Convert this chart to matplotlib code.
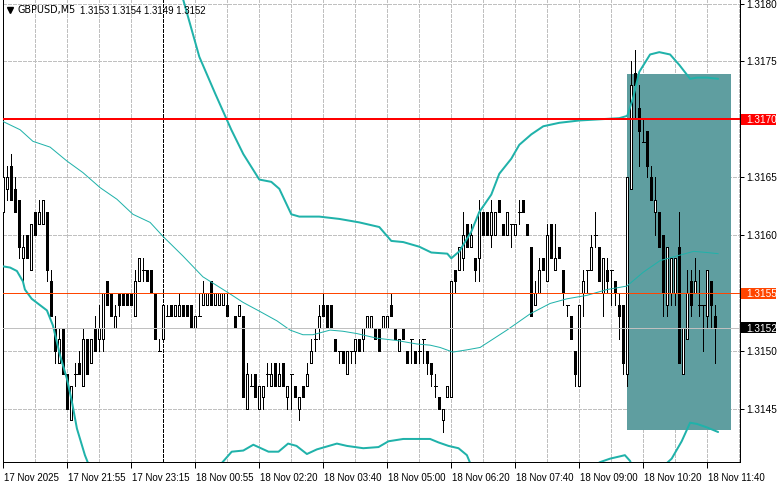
import matplotlib
matplotlib.use("Agg")
import matplotlib.pyplot as plt
from matplotlib.patches import Rectangle
from matplotlib.transforms import blended_transform_factory
import numpy as np

# ---------------- data ----------------
opens = [1.3162,1.3164,1.3166,1.3164,1.3163,1.3158,1.3160,1.3157,1.3162,1.3161,
         1.3161,1.3162,1.3156,1.3152,1.3149,1.3152,1.3148,1.3144,1.3148,1.3149,
         1.3147,1.3151,1.3149,1.3152,1.3151,1.3151,1.3156,1.3155,1.3152,1.3155,
         1.3155,1.3155,1.3155,1.3153,1.3156,1.3157,1.3157,1.3157,1.3155,1.3150,
         1.3151,1.3153,1.3154,1.3153,1.3153,1.3154,1.3154,1.3154,1.3152,1.3153,
         1.3154,1.3154,1.3156,1.3154,1.3154,1.3154,1.3154,1.3152,1.3153,1.3153,
         1.3153,1.3145,1.3147,1.3148,1.3145,1.3146,1.3148,1.3147,1.3149,1.3147,
         1.3149,1.3146,1.3148,1.3147,1.3145,1.3147,1.3147,1.3149,1.3151,1.3152,
         1.3154,1.3154,1.3154,1.3151,1.3150,1.3150,1.3148,1.3150,1.3150,1.3151,
         1.3151,1.3152,1.3152,1.3152,1.3152,1.3152,1.3152,1.3154,1.3152,1.3150,
         1.3152,1.3150,1.3151,1.3150,1.3150,1.3151,1.3150,1.3149,1.3147,1.3146,
         1.3144,1.3146,1.3146,1.3157,1.3157,1.3158,1.3161,1.3159,1.3158,1.3158,
         1.3162,1.3162,1.3160,1.3160,1.3163,1.3161,1.3160,1.3161,1.3160,1.3162,
         1.3163,1.3161,1.3159,1.3154,1.3155,1.3158,1.3156,1.3161,1.3157,1.3159,
         1.3157,1.3154,1.3153,1.3150,1.3147,1.3155,1.3157,1.3157,1.3160,1.3159,
         1.3155,1.3157,1.3157,1.3156,1.3154,1.3154,1.3148,1.3164,1.3174,1.3171,
         1.3168,1.3169,1.3165,1.3162,1.3162,1.3160,1.3154,1.3155,1.3155,1.3159,
         1.3148,1.3151,1.3156,1.3155,1.3154,1.3154,1.3153,1.3156,1.3153]
highs = [1.3166,1.3166,1.3167,1.3165,1.3163,1.3160,1.3160,1.3161,1.3162,1.3163,
         1.3163,1.3162,1.3157,1.3153,1.3152,1.3152,1.3148,1.3147,1.3149,1.3150,
         1.3152,1.3151,1.3151,1.3153,1.3154,1.3155,1.3156,1.3155,1.3154,1.3155,
         1.3155,1.3155,1.3155,1.3157,1.3158,1.3158,1.3157,1.3157,1.3155,1.3151,
         1.3154,1.3154,1.3154,1.3154,1.3155,1.3154,1.3154,1.3154,1.3153,1.3155,
         1.3156,1.3155,1.3156,1.3155,1.3155,1.3155,1.3155,1.3152,1.3153,1.3154,
         1.3153,1.3149,1.3148,1.3148,1.3147,1.3147,1.3149,1.3149,1.3149,1.3149,
         1.3149,1.3147,1.3148,1.3147,1.3146,1.3147,1.3149,1.3151,1.3152,1.3154,
         1.3155,1.3154,1.3154,1.3151,1.3150,1.3150,1.3150,1.3150,1.3151,1.3151,
         1.3152,1.3153,1.3153,1.3152,1.3152,1.3153,1.3153,1.3155,1.3152,1.3151,
         1.3152,1.3150,1.3151,1.3150,1.3151,1.3151,1.3150,1.3149,1.3148,1.3146,
         1.3145,1.3147,1.3156,1.3157,1.3159,1.3162,1.3161,1.3161,1.3158,1.3163,
         1.3162,1.3162,1.3163,1.3162,1.3163,1.3161,1.3162,1.3161,1.3161,1.3163,
         1.3163,1.3161,1.3159,1.3156,1.3158,1.3158,1.3161,1.3161,1.3161,1.3159,
         1.3157,1.3154,1.3153,1.3150,1.3154,1.3157,1.3157,1.3160,1.3162,1.3159,
         1.3158,1.3158,1.3157,1.3156,1.3155,1.3154,1.3165,1.3175,1.3176,1.3173,
         1.3170,1.3169,1.3166,1.3165,1.3162,1.3160,1.3159,1.3158,1.3158,1.3162,
         1.3152,1.3157,1.3157,1.3158,1.3157,1.3154,1.3157,1.3156,1.3154]
lows = [1.3161,1.3163,1.3163,1.3162,1.3158,1.3156,1.3158,1.3157,1.3160,1.3161,
        1.3161,1.3156,1.3153,1.3149,1.3149,1.3148,1.3145,1.3144,1.3147,1.3148,
        1.3147,1.3148,1.3149,1.3150,1.3150,1.3150,1.3154,1.3153,1.3152,1.3153,
        1.3154,1.3154,1.3154,1.3153,1.3156,1.3156,1.3156,1.3155,1.3151,1.3150,
        1.3151,1.3153,1.3153,1.3153,1.3153,1.3153,1.3153,1.3152,1.3152,1.3153,
        1.3154,1.3154,1.3154,1.3154,1.3154,1.3154,1.3153,1.3152,1.3152,1.3153,
        1.3146,1.3145,1.3147,1.3146,1.3145,1.3145,1.3147,1.3147,1.3147,1.3147,
        1.3147,1.3145,1.3145,1.3146,1.3144,1.3146,1.3147,1.3149,1.3150,1.3151,
        1.3153,1.3152,1.3152,1.3150,1.3149,1.3149,1.3148,1.3149,1.3149,1.3150,
        1.3150,1.3152,1.3152,1.3151,1.3150,1.3152,1.3152,1.3153,1.3151,1.3150,
        1.3151,1.3149,1.3149,1.3149,1.3149,1.3149,1.3148,1.3147,1.3146,1.3145,
        1.3143,1.3146,1.3146,1.3155,1.3157,1.3157,1.3159,1.3159,1.3156,1.3156,
        1.3160,1.3160,1.3159,1.3160,1.3162,1.3160,1.3160,1.3159,1.3160,1.3161,
        1.3162,1.3160,1.3153,1.3154,1.3155,1.3157,1.3156,1.3158,1.3157,1.3158,
        1.3154,1.3153,1.3151,1.3147,1.3147,1.3153,1.3155,1.3157,1.3159,1.3156,
        1.3153,1.3155,1.3154,1.3154,1.3151,1.3148,1.3147,1.3164,1.3170,1.3166,
        1.3168,1.3165,1.3163,1.3160,1.3159,1.3153,1.3153,1.3154,1.3154,1.3149,
        1.3148,1.3151,1.3153,1.3155,1.3153,1.3150,1.3152,1.3152,1.3149]
closes = [1.3165,1.3165,1.3163,1.3162,1.3159,1.3159,1.3158,1.3161,1.3160,1.3162,
          1.3163,1.3157,1.3153,1.3150,1.3151,1.3148,1.3145,1.3147,1.3148,1.3148,
          1.3151,1.3148,1.3151,1.3150,1.3152,1.3155,1.3154,1.3153,1.3153,1.3154,
          1.3154,1.3154,1.3154,1.3156,1.3158,1.3157,1.3156,1.3155,1.3151,1.3150,
          1.3154,1.3153,1.3153,1.3154,1.3154,1.3153,1.3153,1.3152,1.3153,1.3153,
          1.3155,1.3155,1.3154,1.3155,1.3155,1.3155,1.3153,1.3152,1.3152,1.3154,
          1.3146,1.3148,1.3147,1.3146,1.3147,1.3147,1.3148,1.3148,1.3147,1.3148,
          1.3147,1.3147,1.3148,1.3146,1.3146,1.3146,1.3148,1.3150,1.3151,1.3153,
          1.3153,1.3152,1.3152,1.3150,1.3150,1.3149,1.3150,1.3150,1.3151,1.3150,
          1.3152,1.3153,1.3153,1.3151,1.3150,1.3153,1.3153,1.3153,1.3151,1.3151,
          1.3151,1.3149,1.3151,1.3149,1.3150,1.3151,1.3149,1.3148,1.3147,1.3145,
          1.3145,1.3147,1.3156,1.3156,1.3159,1.3160,1.3159,1.3160,1.3157,1.3162,
          1.3160,1.3160,1.3162,1.3162,1.3162,1.3160,1.3162,1.3161,1.3161,1.3162,
          1.3162,1.3160,1.3153,1.3155,1.3157,1.3157,1.3160,1.3158,1.3158,1.3158,
          1.3155,1.3154,1.3151,1.3148,1.3154,1.3156,1.3157,1.3159,1.3160,1.3156,
          1.3158,1.3156,1.3157,1.3155,1.3153,1.3149,1.3165,1.3173,1.3173,1.3169,
          1.3168,1.3166,1.3163,1.3163,1.3159,1.3155,1.3159,1.3158,1.3158,1.3149,
          1.3152,1.3155,1.3154,1.3156,1.3154,1.3154,1.3157,1.3154,1.3152]

# Bollinger bands (bar position, price); NaN = off-chart gap
upper_x = [44.0, 45.0, 49.0, 53.0, 57.0, 60.0, 64.0, 67.0, 69.0, 72.0, 74.0, 79.0, 84.0,
           89.0, 94.0, 97.0, 100.0, 104.0, 107.0, 111.0, 112.0, 114.0, 117.0, 119.0,
           122.0, 124.0, 127.0, 129.0, 132.0, 135.0, 139.0, 144.0, 149.0, 154.0, 156.0,
           157.5, 159.0, 161.7, 164.0, 166.7, 169.0, 171.7, 173.4, 176.0, 178.7]
upper_y = [1.31815, 1.31803, 1.31754, 1.31722, 1.31691, 1.31670, 1.31648, 1.31646,
           1.31640, 1.31618, 1.31616, 1.31616, 1.31614, 1.31611, 1.31607, 1.31595,
           1.31594, 1.31590, 1.31585, 1.31584, 1.31580, 1.31586, 1.31603, 1.31620,
           1.31635, 1.31653, 1.31666, 1.31678, 1.31687, 1.31694, 1.31697, 1.31699,
           1.31700, 1.31701, 1.31703, 1.31719, 1.31741, 1.31756, 1.31758, 1.31756,
           1.31747, 1.31735, 1.31736, 1.31736, 1.31735]
middle_x = [0.0, 4.2, 7.4, 11.7, 15.9, 19.9, 24.2, 28.4, 32.4, 36.7, 39.9, 44.9, 49.9,
            55.9, 59.9, 64.2, 68.4, 71.7, 74.9, 77.4, 81.7, 84.9, 88.4, 93.4, 98.4,
            103.4, 106.7, 109.2, 112.4, 116.0, 119.2, 125.9, 131.7, 136.7, 140.9, 145.9,
            150.9, 155.9, 160.0, 164.2, 168.4, 172.6, 175.9, 178.7]
middle_y = [1.31698, 1.31691, 1.31681, 1.31676, 1.31664, 1.31654, 1.31641, 1.31631,
            1.31618, 1.31611, 1.31599, 1.31582, 1.31564, 1.31551, 1.31542, 1.31534,
            1.31526, 1.31518, 1.31514, 1.31514, 1.31518, 1.31517, 1.31515, 1.31511,
            1.31509, 1.31506, 1.31505, 1.31503, 1.31499, 1.31501, 1.31503, 1.31518,
            1.31532, 1.31541, 1.31545, 1.31548, 1.31553, 1.31556, 1.31568, 1.31578,
            1.31582, 1.31586, 1.31585, 1.31584]
lower_x = [0.0, 1.7, 3.4, 4.9, 5.4, 7.1, 10.9, 12.4, 14.2, 15.9, 17.1, 18.4, 20.4, 21.2, 22.0,
           np.nan,
           53.2, 53.8, 57.1, 60.0, 62.5, 66.3, 68.8, 71.2, 73.3, 75.9, 78.4, 83.4, 85.9,
           90.0, 93.8, 96.3, 100.0, 106.7, 108.8, 111.3, 113.8, 115.9, 117.1, 117.7,
           np.nan,
           146.2, 149.2, 151.7, 154.2, 155.4, 156.7, 157.2,
           np.nan,
           164.2, 164.9, 167.1, 169.6, 171.7, 173.4, 175.9, 178.7]
lower_y = [1.31573, 1.31572, 1.31569, 1.31560, 1.31553, 1.31545, 1.31535, 1.31522,
           1.31496, 1.31476, 1.31457, 1.31433, 1.31410, 1.31403, 1.31394,
           np.nan,
           1.31396, 1.31400, 1.31413, 1.31414, 1.31419, 1.31413, 1.31413, 1.31420,
           1.31418, 1.31411, 1.31415, 1.31420, 1.31418, 1.31416, 1.31417, 1.31422,
           1.31424, 1.31424, 1.31421, 1.31418, 1.31416, 1.31410, 1.31400, 1.31394,
           np.nan,
           1.31398, 1.31404, 1.31407, 1.31409, 1.31410, 1.31405, 1.31400,
           np.nan,
           1.31398, 1.31400, 1.31407, 1.31422, 1.31438, 1.31437, 1.31434, 1.31430]

tick_bars = [0, 16, 32, 48, 64, 80, 96, 112, 128, 144, 160, 176]
tick_labels = ["17 Nov 2025", "17 Nov 21:55", "17 Nov 23:15", "18 Nov 00:55",
               "18 Nov 02:20", "18 Nov 03:40", "18 Nov 05:00", "18 Nov 06:20",
               "18 Nov 07:40", "18 Nov 09:00", "18 Nov 10:20", "18 Nov 11:40"]
price_ticks = [1.3145, 1.3150, 1.3155, 1.3160, 1.3165, 1.3170, 1.3175, 1.3180]

symbol = "GBPUSD,M5"
red_level = 1.3170
orange_level = 1.3155
bid_level = 1.3152
separator_bar = 40
zone_bars = (155.85, 181.85)
zone_prices = (1.31432, 1.31739)

# ---------------- figure ----------------
W, H = 781, 489
fig = plt.figure(figsize=(W / 100, H / 100), dpi=100)
fig.patch.set_facecolor("white")
L, R, T, B = 3, 740, 0, 463
ax = fig.add_axes([L / W, 1 - B / H, (R - L) / W, (B - T) / H])
ax.set_xlim(-0.08, 184.18)
ax.set_ylim(1.314041, 1.318039)
ax.set_facecolor("white")

FONT = "Liberation Sans"
px = 72 / 100  # points per pixel

# grid
grid_kw = dict(color="#c0c0c0", lw=1 * px, ls=(0, (3, 2)), zorder=0.5, antialiased=False)
for xb in range(8, 185, 8):
    ax.axvline(xb, **grid_kw)
for p in price_ticks:
    ax.axhline(p, **grid_kw)

# zone rectangle (background)
ax.add_patch(Rectangle((zone_bars[0], zone_prices[0]), zone_bars[1] - zone_bars[0],
                       zone_prices[1] - zone_prices[0], fc="#5f9ea0", ec="none", zorder=1))

# period separator
ax.axvline(separator_bar, color="black", lw=1 * px, ls=(0, (3, 2)), zorder=1.2,
           antialiased=False)

# candles
x = np.arange(len(opens))
o = np.array(opens); h = np.array(highs); l = np.array(lows); c = np.array(closes)
ax.vlines(x, l, h, color="black", lw=1 * px, zorder=3, antialiased=False)
bw = 0.5
for xi, oi, ci in zip(x, o, c):
    if ci > oi:
        ax.add_patch(Rectangle((xi - bw / 2, oi), bw, ci - oi, fc="white", ec="black",
                               lw=1 * px, zorder=4, antialiased=False))
    elif ci < oi:
        ax.add_patch(Rectangle((xi - bw / 2, ci), bw, oi - ci, fc="black", ec="black",
                               lw=1 * px, zorder=4, antialiased=False))
    else:
        ax.hlines(oi, xi - bw / 2 - 0.12, xi + bw / 2 + 0.12, color="black", lw=1 * px,
                  zorder=4, antialiased=False)

# bands
band_col = "#20b2aa"
ax.plot(upper_x, upper_y, color=band_col, lw=2 * px, zorder=5, solid_capstyle="round")
ax.plot(lower_x, lower_y, color=band_col, lw=2 * px, zorder=5, solid_capstyle="round")
ax.plot(middle_x, middle_y, color=band_col, lw=1 * px, zorder=5)

# level lines
ax.axhline(red_level, color="#ff0000", lw=2 * px, zorder=6, antialiased=False)
ax.axhline(orange_level, color="#ff4500", lw=1 * px, zorder=6, antialiased=False)
ax.axhline(bid_level, color="#c0c0c0", lw=1 * px, zorder=6, antialiased=False)

# axes frame
for s in ["left", "bottom", "right"]:
    ax.spines[s].set_color("black")
    ax.spines[s].set_linewidth(1 * px)
ax.spines["top"].set_visible(False)

ax.set_xticks(tick_bars)
ax.set_xticklabels([])
ax.set_yticks(price_ticks)
ax.set_yticklabels([])
ax.tick_params(axis="x", direction="out", length=4, width=1 * px, color="black")
ax.tick_params(axis="y", left=False, right=True, direction="out", length=3,
               width=1 * px, color="black")

xt = blended_transform_factory(ax.transData, ax.transAxes)
for b, lab in zip(tick_bars, tick_labels):
    ax.text(b + 0.2, -0.032, lab, transform=xt, ha="left", va="center",
            fontsize=7, family=FONT, color="black", clip_on=False)

yt = blended_transform_factory(ax.transAxes, ax.transData)
lab_x = (746 - L) / (R - L)
boxed = {red_level: "#ff0000", orange_level: "#ff4500", bid_level: "#000000"}
for p in price_ticks:
    if p in (red_level, orange_level):
        continue
    ax.text(lab_x, p, f"{p:.4f}", transform=yt, ha="left", va="center",
            fontsize=7.2, family=FONT, color="black", clip_on=False)
for p, col in boxed.items():
    hh = 5.5 / 115800
    ax.add_patch(Rectangle(((741 - L) / (R - L), p - hh), 35 / (R - L), 2 * hh,
                           transform=yt, fc=col, ec="none", clip_on=False, zorder=10))
    ax.text(lab_x, p, f"{p:.4f}", transform=yt, ha="left", va="center",
            fontsize=7.2, family=FONT, color="white", clip_on=False, zorder=11)

# header
hy = 1 - 10.5 / (B - T)
ax.plot([(9.5 - L) / (R - L)], [hy], marker="v", ms=4.2, color="black",
        transform=ax.transAxes, clip_on=False, zorder=12)
ax.text((18 - L) / (R - L), hy, symbol, transform=ax.transAxes,
        ha="left", va="center", fontsize=6.9, family="DejaVu Sans", color="black", zorder=12)
ax.text((80 - L) / (R - L), hy,
        f"{opens[-1]:.4f} {highs[-1]:.4f} {lows[-1]:.4f} {closes[-1]:.4f}",
        transform=ax.transAxes, ha="left", va="center", fontsize=6.9, family=FONT,
        color="black", zorder=12)

fig.savefig("out.png", dpi=100, facecolor="white")
